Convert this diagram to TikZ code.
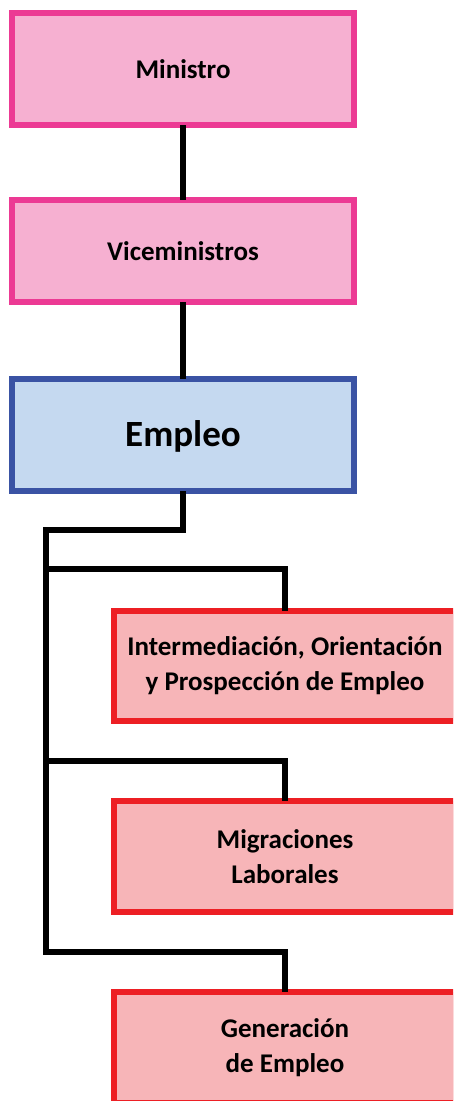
\documentclass[tikz,border=0pt]{standalone}
\usepackage{fontspec}
\setmainfont{Carlito}
\definecolor{pinkfill}{HTML}{F6B0D1}
\definecolor{pinkline}{HTML}{EC3A94}
\definecolor{bluefill}{HTML}{C5D9F0}
\definecolor{blueline}{HTML}{3A53A4}
\definecolor{redfill}{HTML}{F7B5B8}
\definecolor{redline}{HTML}{ED1F24}
\begin{document}
\begin{tikzpicture}[x=1pt,y=-1pt,
  box/.style={rectangle, line width=6pt, minimum width=342pt, inner sep=0pt,
    font=\fontsize{27}{35.5}\selectfont\bfseries, align=center},
  pinkbox/.style={box, draw=pinkline, fill=pinkfill},
  bluebox/.style={box, draw=blueline, fill=bluefill, font=\fontsize{37}{40}\selectfont\bfseries},
  redbox/.style={box, draw=redline, fill=redfill},
  conn/.style={line width=5.5pt, black, line join=miter}]
\useasboundingbox (0,0) rectangle (453,1101);
\clip (0,0) rectangle (453,1101);
\node[pinkbox, minimum height=112pt] (min) at (183,69) {Ministro};
\node[pinkbox, minimum height=102pt] (vice) at (183,251) {Viceministros};
\node[bluebox, minimum height=112pt, text height=23.8pt, text depth=0pt] (emp) at (183,435) {Empleo};
\node[redbox, minimum height=110pt] (int) at (285,665.5) {Intermediación, Orientación\\y Prospección de Empleo};
\node[redbox, minimum height=111pt] (mig) at (285,856.5) {Migraciones\\Laborales};
\node[redbox, minimum height=111pt] (gen) at (285,1047.5) {Generación\\de Empleo};
\coordinate (j0) at (46,530);
\coordinate (b1) at (46,569);
\coordinate (b2) at (46,761);
\coordinate (b3) at (46,952);
\draw[conn, shorten <=-3pt, shorten >=-3pt] (min.south) -- (vice.north);
\draw[conn, shorten <=-3pt, shorten >=-3pt] (vice.south) -- (emp.north);
\draw[conn, shorten <=-3pt, shorten >=-3pt] (emp.south) |- (j0) -- (b3) -| (gen.north);
\draw[conn, shorten >=-3pt] (b1) -| (int.north);
\draw[conn, shorten >=-3pt] (b2) -| (mig.north);
\end{tikzpicture}
\end{document}
